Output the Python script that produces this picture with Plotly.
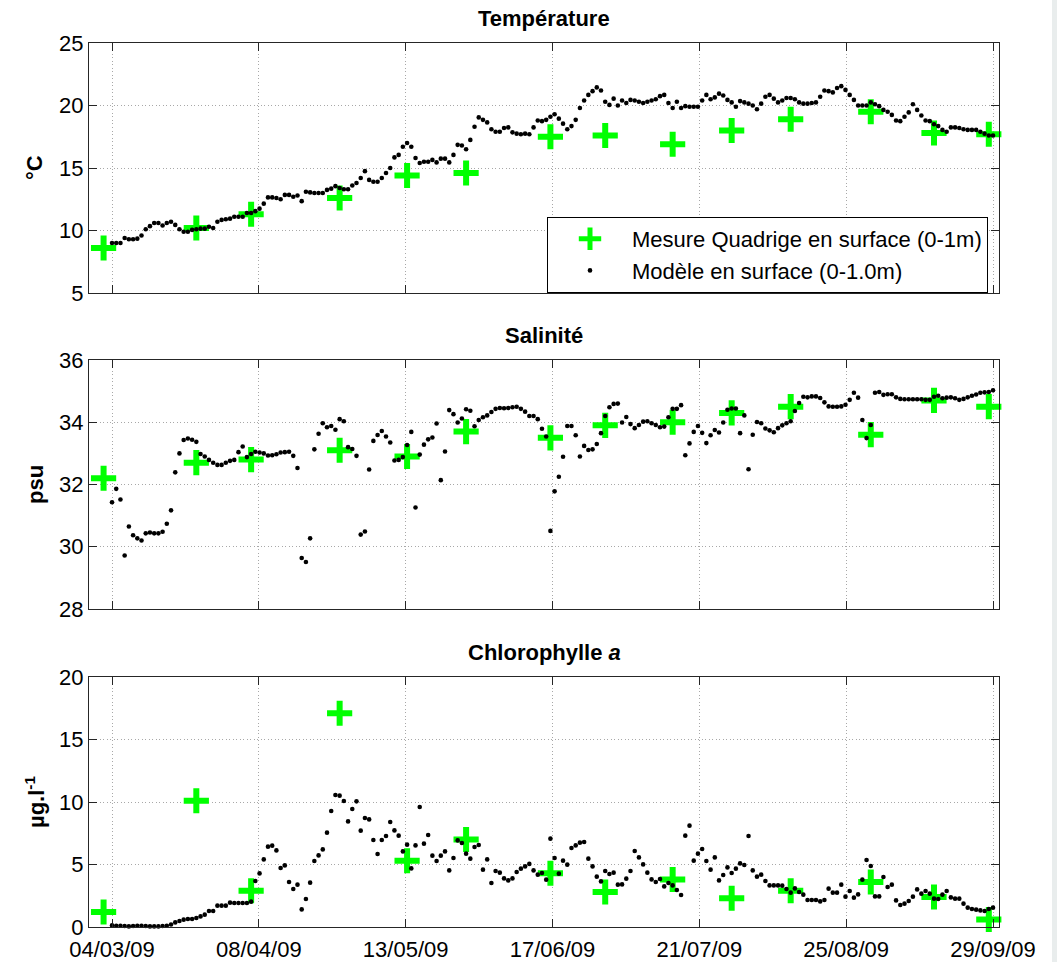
import pandas as pd
import plotly.graph_objects as go

# ---------------- data ----------------
start_date = "2009-03-04"

temp_model = [
    9.0, 9.0, 9.0, 9.4, 9.3, 9.3, 9.35, 9.6, 10.1, 10.35,
    10.6, 10.6, 10.4, 10.6, 10.7, 10.45, 10.1, 9.9, 9.9, 10.05,
    10.1, 10.15, 10.15, 10.3, 10.2, 10.7, 10.85, 10.9, 10.95, 11.1,
    11.1, 11.1, 11.4, 11.4, 11.55, 11.75, 12.15, 12.65, 12.65, 12.6,
    12.5, 12.85, 12.85, 12.7, 12.8, 12.35, 13.1, 13.05, 13.0, 13.0,
    13.0, 13.25, 13.35, 13.55, 13.4, 13.3, 13.3, 13.6, 13.8, 14.2,
    14.75, 14.05, 13.9, 13.9, 14.2, 14.6, 15.0, 15.85, 16.05, 16.7,
    17.0, 16.7, 15.8, 15.4, 15.5, 15.5, 15.65, 15.45, 15.75, 15.75,
    15.45, 16.05, 16.85, 16.8, 16.5, 17.25, 18.3, 19.05, 18.85, 18.65,
    18.1, 17.9, 17.9, 18.2, 18.25, 17.85, 17.75, 17.7, 17.75, 17.7,
    18.25, 18.8, 18.75, 18.85, 19.1, 19.3, 18.95, 18.55, 18.1, 18.35,
    18.85, 19.8, 20.4, 20.85, 21.15, 21.45, 21.2, 20.3, 20.05, 20.55,
    20.0, 20.4, 20.2, 20.45, 20.4, 20.3, 20.2, 20.3, 20.4, 20.5,
    20.75, 20.85, 20.2, 19.8, 20.3, 19.8, 19.95, 19.9, 19.9, 19.9,
    20.4, 20.85, 20.5, 20.65, 20.95, 20.8, 20.45, 20.25, 19.9, 20.35,
    20.25, 20.15, 20.0, 19.7, 20.15, 20.7, 20.85, 20.55, 20.25, 20.4,
    20.6, 20.6, 20.5, 20.25, 20.15, 20.15, 20.2, 20.25, 20.7, 21.2,
    21.15, 21.05, 21.4, 21.55, 21.25, 20.85, 20.45, 20.0, 20.0, 20.0,
    20.25, 20.1, 19.95, 19.65, 19.5, 19.25, 18.8, 18.75, 19.1, 19.45,
    20.1, 19.65, 19.2, 18.8, 18.75, 18.5, 18.35, 18.05, 17.9, 18.25,
    18.25, 18.2, 18.1, 18.05, 18.05, 18.05, 17.9, 17.75, 17.6, 17.6,
]

sal_model = [
    31.43, 31.86, 31.52, 29.72, 30.65, 30.37, 30.27, 30.2, 30.43, 30.46,
    30.43, 30.43, 30.48, 30.74, 31.17, 32.39, 33.0, 33.43, 33.48, 33.44,
    33.37, 32.98, 32.9, 32.79, 32.7, 32.63, 32.63, 32.7, 32.76, 32.79,
    33.04, 33.22, 32.88, 32.98, 33.05, 33.03, 33.0, 32.93, 32.94, 32.97,
    33.03, 33.04, 33.05, 32.92, 32.53, 29.64, 29.51, 30.27, 33.13, 33.63,
    33.97, 33.84, 33.88, 33.76, 34.1, 34.03, 33.2, 33.14, 32.92, 30.39,
    30.49, 32.48, 33.4, 33.59, 33.72, 33.54, 33.35, 32.77, 32.79, 32.88,
    33.27, 33.69, 31.26, 32.96, 33.28, 33.45, 33.51, 33.96, 32.14, 33.06,
    34.39, 34.26, 33.99, 34.12, 34.42, 34.37, 33.87, 34.07, 34.16, 34.22,
    34.33, 34.43, 34.46, 34.45, 34.46, 34.48, 34.5, 34.43, 34.34, 34.2,
    34.2, 34.1, 33.79, 33.54, 30.51, 31.78, 32.25, 32.89, 33.88, 33.88,
    33.58, 32.9, 33.24, 33.11, 33.13, 33.3, 33.65, 34.2, 34.48, 34.59,
    34.6, 33.99, 34.17, 33.94, 33.81, 33.91, 34.02, 34.03, 33.97, 33.91,
    33.84, 33.86, 34.16, 34.43, 34.43, 34.55, 32.94, 33.32, 33.69, 33.88,
    33.66, 33.33, 33.58, 33.75, 33.67, 33.99, 34.4, 34.44, 34.44, 33.65,
    34.22, 32.49, 33.6, 34.01, 33.97, 33.8, 33.74, 33.68, 33.81, 33.9,
    33.97, 34.03, 34.36, 34.62, 34.82, 34.8, 34.83, 34.83, 34.78, 34.64,
    34.51, 34.5, 34.5, 34.51, 34.56, 34.72, 34.95, 34.79, 34.07, 33.49,
    33.91, 34.95, 34.97, 34.88, 34.9, 34.9, 34.8, 34.75, 34.74, 34.74,
    34.74, 34.74, 34.74, 34.72, 34.72, 34.82, 34.85, 34.77, 34.79, 34.8,
    34.77, 34.72, 34.75, 34.8, 34.85, 34.89, 34.95, 34.96, 34.97, 35.03,
]

chl_model = [
    0.13, 0.1, 0.1, 0.08, 0.05, 0.08, 0.1, 0.1, 0.08, 0.05,
    0.05, 0.05, 0.08, 0.1, 0.2, 0.37, 0.48, 0.59, 0.64, 0.64,
    0.72, 0.85, 0.99, 1.28, 1.28, 1.71, 1.71, 1.71, 1.95, 1.92,
    1.92, 1.92, 1.92, 2.03, 3.68, 4.29, 5.41, 6.43, 6.51, 6.13,
    4.72, 4.93, 3.6, 3.04, 3.39, 1.41, 2.24, 3.55, 5.28, 5.73,
    6.21, 7.55, 9.28, 10.56, 10.51, 10.08, 8.45, 9.44, 10.05, 7.71,
    8.72, 8.61, 6.96, 5.84, 6.96, 7.28, 8.4, 7.73, 7.31, 6.05,
    6.59, 4.69, 6.53, 9.6, 6.67, 7.36, 5.71, 5.28, 5.71, 6.05,
    4.53, 5.52, 6.93, 6.72, 5.87, 5.47, 6.4, 6.56, 4.59, 5.41,
    3.52, 4.48, 4.35, 3.89, 3.73, 3.89, 4.4, 4.67, 4.85, 5.05,
    4.53, 4.19, 4.32, 3.79, 7.07, 5.52, 4.27, 5.31, 4.99, 6.32,
    6.53, 6.75, 6.8, 5.47, 4.85, 4.03, 3.65, 4.48, 4.24, 4.35,
    3.39, 3.41, 3.87, 4.48, 6.08, 5.57, 5.01, 4.35, 3.81, 3.6,
    3.84, 3.25, 3.52, 3.33, 2.96, 2.56, 7.31, 8.11, 5.31, 5.87,
    6.24, 5.28, 4.59, 5.57, 3.73, 4.16, 4.77, 4.32, 4.67, 5.09,
    4.96, 7.28, 4.53, 4.03, 4.19, 3.68, 3.33, 3.33, 3.33, 3.31,
    3.04, 2.75, 3.09, 2.8, 2.59, 2.16, 2.16, 2.16, 2.05, 2.16,
    3.07, 2.75, 2.75, 3.39, 2.43, 2.88, 2.35, 2.61, 3.79, 5.36,
    4.88, 2.45, 2.45, 4.0, 3.2, 3.39, 2.13, 1.76, 1.87, 2.08,
    2.43, 3.01, 2.67, 2.88, 2.67, 2.27, 2.24, 2.59, 2.88, 2.37,
    2.27, 2.27, 1.87, 1.55, 1.44, 1.39, 1.33, 1.28, 1.44, 1.55,
]

meas_dates = ["2009-03-02", "2009-03-24", "2009-04-06", "2009-04-27", "2009-05-13",
              "2009-05-27", "2009-06-16", "2009-06-29", "2009-07-15", "2009-07-29",
              "2009-08-12", "2009-08-31", "2009-09-15", "2009-09-28"]
temp_meas = [8.6, 10.2, 11.3, 12.6, 14.4, 14.6, 17.5, 17.6, 16.9, 18.0, 18.9, 19.5, 17.8, 17.7]
sal_meas = [32.2, 32.7, 32.8, 33.1, 32.9, 33.7, 33.5, 33.9, 34.0, 34.3, 34.5, 33.6, 34.7, 34.5]
chl_meas = [1.2, 10.1, 2.9, 17.1, 5.3, 7.0, 4.3, 2.8, 3.8, 2.3, 2.9, 3.6, 2.4, 0.6]

tick_labels = ["04/03/09", "08/04/09", "13/05/09", "17/06/09", "21/07/09", "25/08/09", "29/09/09"]

panel_titles = ["Température", "Salinité", "Chlorophylle <i>a</i>"]
unit_labels = ["°C", "psu", "µg.l<sup>-1</sup>"]
y_ranges = [[5, 25], [28, 36], [0, 20]]
y_dticks = [5, 2, 5]

meas_name = "Mesure Quadrige en surface (0-1m)"
model_name = "Modèle en surface (0-1.0m)"

# ---------------- figure ----------------
FONT = "Liberation Sans, Arial, sans-serif"
W, H = 1057, 962
ML, MR, MT, MB = 89, 58, 43, 35

t0 = pd.Timestamp(start_date)
model_dates = pd.date_range(start_date, periods=len(temp_model), freq="D")
span_days = 209.0
tick_vals = [(t0 + pd.Timedelta(days=span_days * k / 6)).strftime("%Y-%m-%d %H:%M:%S")
             for k in range(len(tick_labels))]
x_range = [(t0 + pd.Timedelta(days=-5.46)).strftime("%Y-%m-%d %H:%M:%S"),
           (t0 + pd.Timedelta(days=210.42)).strftime("%Y-%m-%d %H:%M:%S")]

plot_h = H - MT - MB
def py(pix):
    return 1 - (pix - MT) / plot_h

domains = [[py(293), 1.0], [py(609), py(360)], [0.0, py(677)]]

fig = go.Figure()
model_series = [temp_model, sal_model, chl_model]
meas_series = [temp_meas, sal_meas, chl_meas]

for i in range(3):
    ax = "" if i == 0 else str(i + 1)
    fig.add_trace(go.Scatter(
        x=meas_dates, y=meas_series[i], mode="markers", name=meas_name,
        xaxis="x" + ax, yaxis="y" + ax, showlegend=(i == 0), cliponaxis=False,
        marker=dict(symbol="cross-thin", size=18, color="#00ff00",
                    line=dict(color="#00ff00", width=6)),
    ))
    fig.add_trace(go.Scatter(
        x=model_dates, y=model_series[i], mode="markers", name=model_name,
        xaxis="x" + ax, yaxis="y" + ax, showlegend=(i == 0), cliponaxis=False,
        marker=dict(symbol="circle", size=4.6, color="black"),
    ))

axis_common = dict(
    showline=True, linecolor="#262626", linewidth=1, mirror="ticks",
    ticks="inside", ticklen=8, tickwidth=1, tickcolor="#262626",
    showgrid=True, gridcolor="#a8a8a8", griddash="1px,2.5px", gridwidth=1,
    zeroline=False, automargin=False,
    tickfont=dict(family=FONT, size=22, color="black"),
)

layout_axes = {}
for i in range(3):
    ax = "" if i == 0 else str(i + 1)
    layout_axes["xaxis" + ax] = dict(
        axis_common, type="date", range=x_range, tickmode="array",
        tickvals=tick_vals, ticktext=tick_labels, showticklabels=(i == 2),
        ticklabelstandoff=3,
        anchor="y" + ax, domain=[0, 1],
    )
    layout_axes["yaxis" + ax] = dict(
        axis_common, range=y_ranges[i], dtick=y_dticks[i], tick0=0,
        anchor="x" + ax, domain=domains[i],
    )

annotations = []
title_pix = [18, 336, 652]
unit_pix = [168, 485, 802]
for i in range(3):
    annotations.append(dict(
        text="<b>" + panel_titles[i] + "</b>", x=0.5, y=py(title_pix[i]),
        xref="paper", yref="paper", showarrow=False, xanchor="center", yanchor="middle",
        font=dict(family=FONT, size=22, color="black"),
    ))
    annotations.append(dict(
        text="<b>" + unit_labels[i] + "</b>", x=(35 - ML) / (W - ML - MR), y=py(unit_pix[i]),
        xref="paper", yref="paper", showarrow=False, xanchor="center", yanchor="middle",
        textangle=-90, font=dict(family=FONT, size=22, color="black"),
    ))

fig.update_layout(
    template="none",
    width=W, height=H,
    margin=dict(l=ML, r=MR, t=MT, b=MB, pad=0, autoexpand=False),
    paper_bgcolor="white", plot_bgcolor="white",
    font=dict(family=FONT, size=22, color="black"),
    showlegend=True,
    legend=dict(
        x=(988 - ML) / (W - ML - MR), y=py(217), xanchor="right", yanchor="top",
        bgcolor="white", bordercolor="black", borderwidth=1,
        font=dict(family=FONT, size=22, color="black"),
        itemwidth=74, tracegroupgap=0,
    ),
    annotations=annotations,
    shapes=[dict(type="rect", xref="paper", yref="paper",
                 x0=(1052 - ML) / (W - ML - MR), x1=1.2, y0=-0.2, y1=1.2,
                 fillcolor="#e9eded", line=dict(width=0), layer="below")],
    **layout_axes,
)

fig.write_html("out.html")
